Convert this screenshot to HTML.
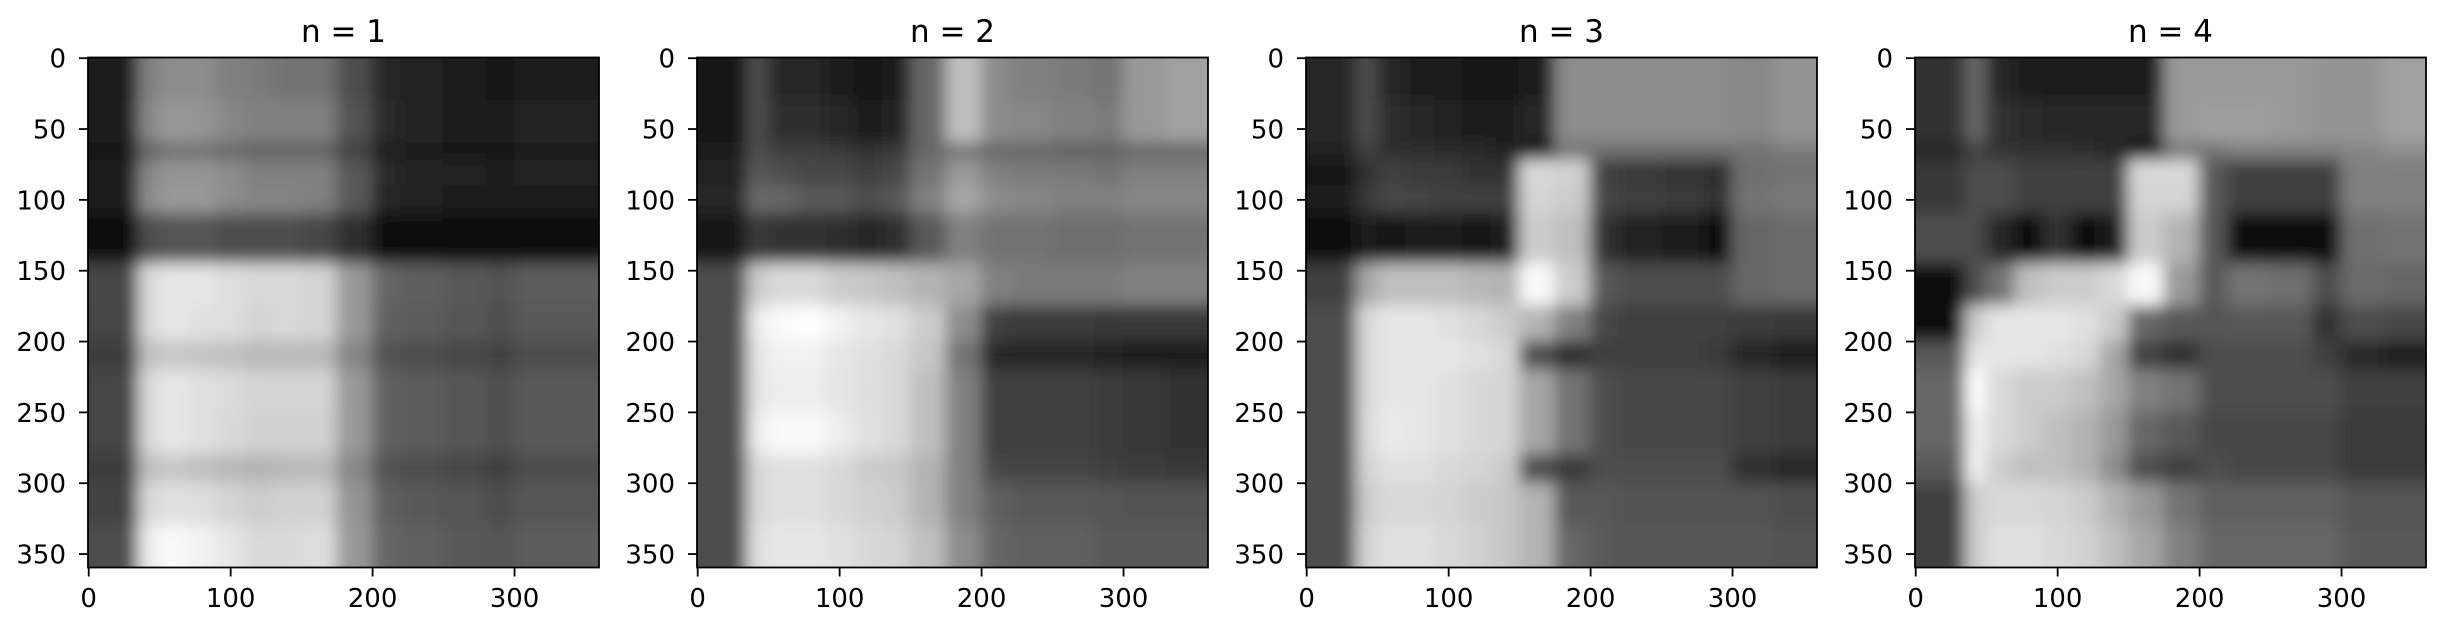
<!DOCTYPE html>
<html><head><meta charset="utf-8">
<style>
html,body{margin:0;padding:0;background:#fff;}
svg{display:block;}
text{font-family:"DejaVu Sans","Liberation Sans",sans-serif;fill:#000;}
</style></head>
<body>
<svg id="fig" width="2443" height="632" viewBox="0 0 2443 632" xmlns="http://www.w3.org/2000/svg">
<defs>
<filter id="soft" x="-10%" y="-10%" width="120%" height="120%"><feGaussianBlur stdDeviation="8"/></filter>
</defs>
</svg>
<script>
// shared bin edges (data units)
const colEdges=[0,35,50,70,90,110,130,150,175,200,220,250,280,300,330,360];
const rowEdges=[0,30,60,72,90,110,145,175,200,220,250,280,300,330,360];
const titles=["n = 1","n = 2","n = 3","n = 4"];
const xTicks=[0,100,200,300];
const yTicks=[0,50,100,150,200,250,300,350];
const grid1=[
[1,5,5.5,5.5,5,4.8,4.5,4.5,3,1.5,1.3,1.1,0.9,1.2,1.2],
[1,5.3,6,5.8,5.3,5,5,5,3.2,1.6,1.4,1.2,1,1.3,1.3],
[0.8,3.8,4.3,4.3,4,3.8,3.8,3.8,2.5,1.2,1,0.9,0.8,1,1],
[1.2,5.3,5.8,5.8,5.5,5,5,5,3.5,1.6,1.4,1.3,1.1,1.3,1.3],
[1,5.5,6,6,5.5,5.2,5.2,5,3.5,1.5,1.3,1.1,1,1.2,1.2],
[0.3,3,3.3,3.3,3,3,3,2.8,1.8,0.6,0.5,0.4,0.3,0.5,0.5],
[2.8,8.5,9,9,8.7,8.5,8.5,8.3,6,4,3.7,3.5,3.2,3.6,3.6],
[2.7,8.5,9,8.8,8.7,8.3,8.5,8.3,6,3.8,3.6,3.4,3.1,3.5,3.5],
[2.4,7.5,7.8,7.7,7.5,7.2,7.3,7.2,5.2,3.2,3,2.8,2.6,3,3],
[2.7,8.5,9,8.8,8.6,8.3,8.3,8.3,6,3.8,3.6,3.4,3.1,3.5,3.5],
[2.7,8.5,9,8.8,8.5,8.2,8.2,8.2,6,3.8,3.6,3.4,3.1,3.5,3.5],
[2.4,7.5,7.8,7.5,7.2,7,7.2,7.3,5.3,3.2,3,2.8,2.5,3,3],
[2.6,8.5,8.8,8.7,8.3,8,8.2,8.2,5.8,3.8,3.5,3.3,3,3.4,3.4],
[3,9.3,9.8,9.5,9,8.5,8.5,8.7,6,4,3.8,3.5,3.3,3.6,3.6]];
const grid2=[
[0.8,3,1.5,1.5,1.2,0.7,1,4,7.5,5.5,5,4.8,4.5,6,6.3],
[0.8,3,1.8,1.8,1.5,1,1.3,4,7.5,5.5,5.3,5,4.8,6,6.3],
[1.2,3,2.5,2.5,2.3,2,2.3,4,4.5,4,4,3.8,3.8,4,4],
[1.3,3.5,3,2.8,2.8,2.5,2.8,4.5,6,5,4.8,4.8,4.5,5,5],
[1.5,4.2,4,3.5,3.5,3,3.5,5,6.5,5.5,5.3,5,5,5.3,5.3],
[0.8,2.3,2,2,1.8,1.5,1.8,3.5,5,4.5,4.5,4.3,4.3,4.5,4.5],
[3,8,8.5,8.5,8,7.8,7.5,7,6.5,5,4.8,4.8,4.8,5,5],
[3,9.3,9.8,10,9.5,9,8.8,8,5.5,2.5,2.3,2.3,2.2,2.2,2.2],
[3,9,9.5,9.5,9,8.8,8.5,7.8,4.5,1.5,1.5,1.5,1.3,1.2,1],
[3,9,9.3,9.3,9,8.7,8.5,7.5,5,2.5,2.5,2.5,2.3,2.2,2],
[3,9.3,9.8,9.8,9.3,8.8,8.5,7.5,5,2.5,2.5,2.5,2.3,2.2,2],
[3,8.5,8.8,8.8,8.5,8,7.8,7,5,2.8,2.7,2.7,2.5,2.3,2.2],
[3,8.5,8.8,8.8,8.5,8.2,8,7,5,3.8,3.5,3.5,3.3,3.2,3.2],
[3,8.8,9,9,8.8,8.5,8.3,7.5,5.5,4,3.8,3.8,3.5,3.5,3.5]];
const grid3=[
[1.5,3,1.5,1.2,1,0.8,0.8,1.2,5.5,5.5,5.5,5.5,5.5,5.3,5.8],
[1.5,3,1.8,1.5,1.3,1.2,1,1.5,5.5,5.5,5.5,5.5,5.5,5.3,5.8],
[1.3,2.5,1.8,1.8,1.7,1.6,1.3,0.5,4.5,4.3,4.3,4.3,4.3,4.5,4.8],
[0.8,2,2.5,2.3,2.3,2,2,8.5,8.2,2.5,2.2,2,1.8,4.3,4.5],
[1,2.2,2.8,2.7,2.5,2.5,2.5,8.3,8,2.8,2.5,2.3,2,4.5,4.7],
[0.3,1,0.8,1,1,0.8,1.2,8,7.5,2,1.3,1.2,0.6,4,4.2],
[2.5,6.5,7.5,7.5,7.5,7.2,7,9.8,8,3.5,3,3,3,4,4.2],
[3,8.5,9,9,8.8,8.5,8,7,5,2.8,2.5,2.5,2.5,2.3,2.2],
[3,8.5,9,9,9,8.8,8.5,3,1.8,2.5,2.5,2.5,2.3,1.5,1],
[3,8.5,9,9,8.8,8.5,8.3,6.5,4.5,3,2.8,2.8,2.8,2.5,2.3],
[3,8.5,9.2,9,8.8,8.5,8.3,6.5,4.5,3,2.8,2.8,2.8,2.5,2.3],
[3,8.3,8.8,8.8,8.5,8.3,8,3,2.3,3,3,3,3,1.8,1.5],
[3,8,8.5,8.5,8.3,8,7.8,7,3.5,3.5,3.2,3.2,3.2,3.2,3],
[3,8.3,8.8,8.8,8.5,8.2,7.8,7,4,3.5,3.3,3.3,3.3,3.3,3.2]];
const grid4=[
[2,4,1.5,1.2,1.2,1.2,1.2,1.2,6,6,6,6,5.8,5.8,6.3],
[2,4,2,1.7,1.5,1.5,1.5,1.5,6,6.2,6.2,6,5.8,5.8,6.3],
[1.5,2.5,2,2,2,1.8,1.5,0.3,4.5,4.5,5,5,5,5.2,5.5],
[2.2,3,3,2.5,2.5,2.5,2.5,8.5,8.5,3.5,2.5,2.5,2.5,5,5],
[2.2,3,3,2.5,2.5,2.5,2.5,8.3,8.3,3.5,2.5,2.5,2.5,5,5],
[3,3,1.5,0.5,2,0.5,1,8,7,3.5,0.6,0.5,0.6,4.3,4.5],
[0.5,3,4.5,7.5,8,8,8.5,9.8,6,3.5,4.5,4.3,3,4.2,4],
[0.5,8,9,9,9,8.8,8,4,3.5,3.3,3.5,3.5,2,3,2.8],
[3.5,9,9,9,8.8,8.5,6.5,2.5,1.8,3,3,3,2.5,1.5,1],
[4,10,8.5,8,8,7.5,6.5,5,4.5,3,3,3,3,2.5,2.5],
[4,9.5,8.5,8,7.5,7,6,4,3.5,2.8,2.8,2.8,2.8,2.3,2.3],
[3.5,9.5,8,7.5,7.5,7,5.5,3,2.5,3,2.8,2.8,2.8,2.3,2.3],
[2.5,8,8.5,8.5,8.3,8,7,6,4.5,3.8,3.8,3.8,3.8,3.3,3.3],
[2.5,8,8.8,8.8,8.5,8.2,7.5,6.5,5,4,4,4,4,3.5,3.5]];
const grids=[grid1,grid2,grid3,grid4];

const NS="http://www.w3.org/2000/svg";
const svg=document.getElementById('fig');
const defs=svg.querySelector('defs');
const AX_LEFT0=88, AX_STEP=609, AX_TOP=57.5, AX_W=511, AX_H=510;
function mk(tag,attrs,parent){const e=document.createElementNS(NS,tag);for(const k in attrs)e.setAttribute(k,attrs[k]);(parent||svg).appendChild(e);return e;}
function grayOf(v){const g=Math.max(0,Math.min(255,Math.round(v*25.5)));return `rgb(${g},${g},${g})`;}

grids.forEach((grid,p)=>{
  const L=AX_LEFT0+p*AX_STEP, T=AX_TOP;
  const xs=v=>L+v*AX_W/360;
  const ys=v=>T+v*AX_H/360;
  const cp=mk('clipPath',{id:'clip'+p},defs);
  mk('rect',{x:L,y:T,width:AX_W,height:AX_H},cp);
  const panel=mk('g',{});
  
  
  const clipG=mk('g',{'clip-path':'url(#clip'+p+')'},panel);
  const heat=mk('g',{filter:'url(#soft)'},clipG);
  
  
  const nR=rowEdges.length-1, nC=colEdges.length-1;
  for(let r=0;r<nR;r++){
    for(let c=0;c<nC;c++){
      let x0=xs(colEdges[c]), x1=xs(colEdges[c+1]), y0=ys(rowEdges[r]), y1=ys(rowEdges[r+1]);
      if(c===0)x0-=35; if(c===nC-1)x1+=35; if(r===0)y0-=35; if(r===nR-1)y1+=35;
      const cell=mk('rect',{x:x0,y:y0,width:x1-x0+0.6,height:y1-y0+0.6,fill:grayOf(grid[r][c])},heat);
      
      
    }
  }
  const frame=mk('rect',{x:L,y:T,width:AX_W,height:AX_H,fill:'none',stroke:'#000','stroke-width':1.8},panel);
  
  
  const title=mk('text',{x:L+AX_W/2,y:42,'text-anchor':'middle','font-size':31},panel);
  title.textContent=titles[p];
  
  
  xTicks.forEach(t=>{
    const x=xs(t+0.5);
    const tk=mk('line',{x1:x,x2:x,y1:T+AX_H,y2:T+AX_H+9,stroke:'#000','stroke-width':1.8},panel);
    
    
    const lb=mk('text',{x:x,y:607,'text-anchor':'middle','font-size':26},panel);
    lb.textContent=t;
    
    
  });
  yTicks.forEach(t=>{
    const y=ys(t+0.5);
    const tk=mk('line',{x1:L-9,x2:L,y1:y,y2:y,stroke:'#000','stroke-width':1.8},panel);
    
    
    const lb=mk('text',{x:L-22,y:y+9.5,'text-anchor':'end','font-size':26},panel);
    lb.textContent=t;
    
    
  });
});
</script>
</body></html>
